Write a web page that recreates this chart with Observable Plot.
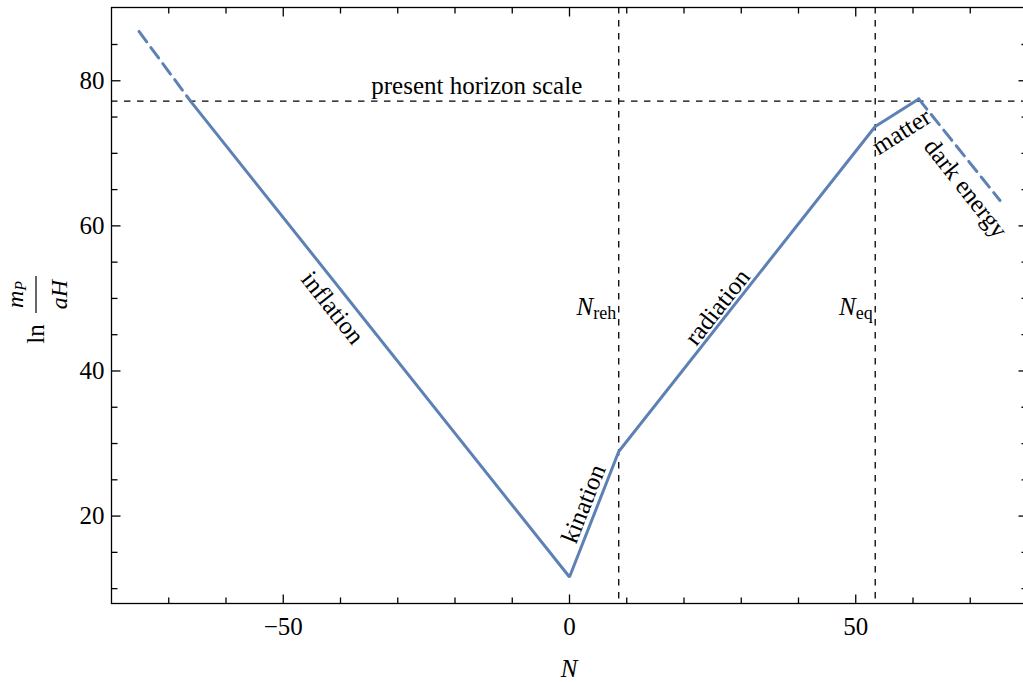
<!DOCTYPE html>
<html>
<head>
<meta charset="utf-8">
<script src="https://cdn.jsdelivr.net/npm/d3@7"></script>
<script src="https://cdn.jsdelivr.net/npm/@observablehq/plot@0.6"></script>
<style>
  html, body { margin: 0; padding: 0; background: #fff; overflow: hidden; }
  #chart { width: 1023px; height: 682px; overflow: hidden; }
  #chart svg { display: block; max-width: none !important; }
</style>
</head>
<body>
<div id="chart"></div>
<script>
// Comoving Hubble scale ln(m_P / aH) against e-folds N through the cosmic history.
// Solid part of the track (below the present horizon scale and up to today)
const solidN = [-66.2, 0, 8.6, 53.4, 61.0];
const solidV = [77.2, 11.6, 28.9, 73.7, 77.5];
// Dashed parts: early inflation above the horizon, and future dark energy
const earlyDashN = [-75.2, -66.2];
const earlyDashV = [86.8, 77.2];
const lateDashN = [61.0, 75.2];
const lateDashV = [77.5, 63.5];

// Reference levels
const horizonV = [77.2];
const eventN = [8.6, 53.4];          // N_reh, N_eq
const eventSub = ["reh", "eq"];
const eventV = [48.8, 48.8];

// Phase labels, written along each segment (slope of ln(1/aH) in N)
const phaseNames = ["inflation", "kination", "radiation", "matter", "dark energy"];
const phaseSlopes = [-1, 2, 1, 0.5, -1];
const phaseN = [-41.4, 2.45, 25.85, 58.0, 69.2];
const phaseV = [48.7, 21.7, 48.8, 73.0, 65.2];

const horizonLabel = ["present horizon scale"];
const horizonLabelN = [-16.2];
const horizonLabelV = [79.3];

// Ticks
const xMajor = [-50, 0, 50];
const xMinor = [-70, -60, -40, -30, -20, -10, 10, 20, 30, 40, 60, 70];
const yMajor = [20, 40, 60, 80];
const yMinor = [10, 15, 25, 30, 35, 45, 50, 55, 65, 70, 75, 85];

const xDomain = [-80, 80];
const yDomain = [7.95, 90.1];

const W = 1030, H = 682;
const mL = 111, mR = 3, mT = 7, mB = 79;
const blue = "#5E81B5";
const serif = "'Liberation Serif', 'Times New Roman', serif";
const fs = 25;

// pixel aspect used to turn a data slope into an on-screen angle
const kx = (W - mL - mR) / (xDomain[1] - xDomain[0]);
const ky = (H - mT - mB) / (yDomain[1] - yDomain[0]);
const angleOf = s => -Math.atan(s * ky / kx) * 180 / Math.PI;

// a plain tick stroke for Plot.vector
const tickShape = { draw(ctx, l) { ctx.moveTo(0, 0); ctx.lineTo(0, -l); } };
const tick = (data, anchor, len) => {
  const vertical = anchor === "left" || anchor === "right";
  const rot = { bottom: 0, top: 180, left: 90, right: -90 }[anchor];
  return Plot.vector(data, {
    [vertical ? "y" : "x"]: d => d,
    frameAnchor: anchor, length: len, rotate: rot, anchor: "start",
    shape: tickShape, stroke: "black", strokeWidth: 1.3, strokeLinecap: "butt"
  });
};

const idx = a => d3.range(a.length);

const plot = Plot.plot({
  width: W, height: H,
  marginLeft: mL, marginRight: mR, marginTop: mT, marginBottom: mB,
  style: { fontFamily: serif, background: "white", color: "black", overflow: "visible", maxWidth: "none" },
  x: { domain: xDomain, axis: null },
  y: { domain: yDomain, axis: null },
  marks: [
    // guides
    Plot.ruleY(horizonV, { stroke: "black", strokeWidth: 1.3, strokeDasharray: "6.5,6.5" }),
    Plot.ruleX(eventN, { stroke: "black", strokeWidth: 1.3, strokeDasharray: "6.5,6.5" }),
    // the track
    Plot.line(idx(solidN), { x: i => solidN[i], y: i => solidV[i], stroke: blue, strokeWidth: 3, strokeLinejoin: "miter" }),
    Plot.line(idx(earlyDashN), { x: i => earlyDashN[i], y: i => earlyDashV[i], stroke: blue, strokeWidth: 3, strokeDasharray: "13,7" }),
    Plot.line(idx(lateDashN), { x: i => lateDashN[i], y: i => lateDashV[i], stroke: blue, strokeWidth: 3, strokeDasharray: "13,7" }),
    // phase labels
    Plot.text(phaseNames, {
      x: (d, i) => phaseN[i], y: (d, i) => phaseV[i], text: d => d,
      rotate: (d, i) => angleOf(phaseSlopes[i]),
      fontSize: fs, fill: "black", textAnchor: "middle", lineAnchor: "middle"
    }),
    Plot.text(horizonLabel, {
      x: (d, i) => horizonLabelN[i], y: (d, i) => horizonLabelV[i], text: d => d,
      fontSize: fs, fill: "black", textAnchor: "middle", lineAnchor: "middle"
    }),
    // frame and inward ticks on all sides
    Plot.frame({ stroke: "black", strokeWidth: 1.3 }),
    tick(xMajor, "bottom", 9), tick(xMinor, "bottom", 6),
    tick(xMajor, "top", 9), tick(xMinor, "top", 6),
    tick(yMajor, "left", 9), tick(yMinor, "left", 6),
    tick(yMajor, "right", 9), tick(yMinor, "right", 6),
    // tick labels
    Plot.axisX(xMajor, { anchor: "bottom", tickSize: 0, tickPadding: 14, fontSize: fs, label: null }),
    Plot.axisY(yMajor, { anchor: "left", tickSize: 0, tickPadding: 7, fontSize: fs, label: null })
  ]
});

document.getElementById("chart").appendChild(plot);

const svg = d3.select(plot);
const sx = plot.scale("x"), sy = plot.scale("y");

// N_reh and N_eq, set just left of their dashed lines
eventN.forEach((n, i) => {
  const t = svg.append("text")
    .attr("x", sx.apply(n) - 2)
    .attr("y", sy.apply(eventV[i]) + 8)
    .attr("text-anchor", "end")
    .attr("font-family", serif)
    .attr("font-size", fs)
    .attr("fill", "black");
  t.append("tspan").attr("font-style", "italic").text("N");
  t.append("tspan").attr("font-size", 18).attr("dy", 4).text(eventSub[i]);
});

// vertical axis title: ln (m_P / aH)
const g = svg.append("g").attr("transform", "rotate(-90)")
  .attr("font-family", serif).attr("fill", "black");
g.append("text").attr("x", -334).attr("y", 44).attr("font-size", fs).text("ln");
g.append("line").attr("x1", -313).attr("x2", -276).attr("y1", 36).attr("y2", 36)
  .attr("stroke", "black").attr("stroke-width", 1.2);
const num = g.append("text").attr("x", -294.5).attr("y", 23).attr("text-anchor", "middle").attr("font-size", 24);
num.append("tspan").attr("font-style", "italic").text("m");
num.append("tspan").attr("font-style", "italic").attr("font-size", 16).attr("dy", 3).text("P");
g.append("text").attr("x", -294.5).attr("y", 67).attr("text-anchor", "middle")
  .attr("font-size", 24).attr("font-style", "italic").text("aH");

// horizontal axis title
svg.append("text").attr("x", sx.apply(0)).attr("y", 677)
  .attr("text-anchor", "middle").attr("font-family", serif).attr("font-size", fs)
  .attr("font-style", "italic").attr("fill", "black").text("N");
</script>
</body>
</html>
